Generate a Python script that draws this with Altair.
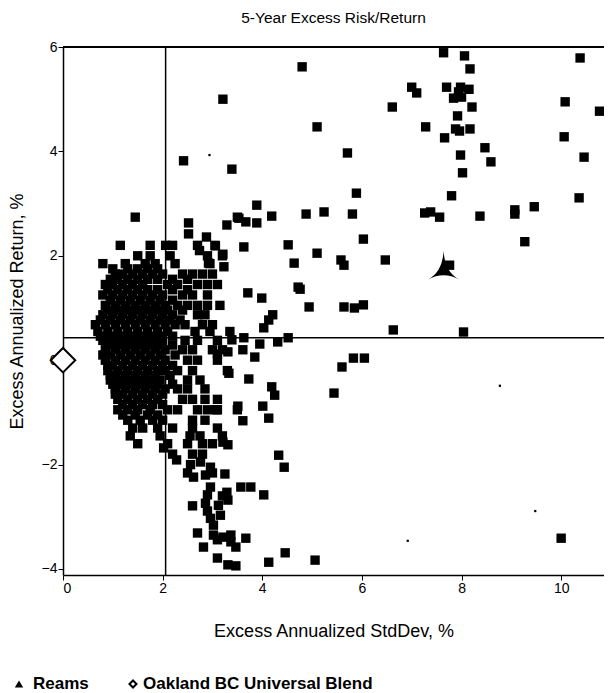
import altair as alt
import pandas as pd

# ---------------- data ----------------
outer_points = [
    (4.80, 5.62), (3.21, 5.00), (5.10, 4.47), (6.61, 4.85), (5.71, 3.97), (3.39, 3.66),
    (2.42, 3.82), (5.89, 3.20), (3.89, 2.97), (4.19, 2.76), (4.88, 2.80), (5.24, 2.84),
    (5.81, 2.80), (3.53, 2.72), (3.67, 2.65), (3.89, 2.63), (3.29, 2.59), (2.52, 2.63),
    (2.52, 2.42), (2.88, 2.36), (6.03, 2.32), (1.45, 2.74), (3.50, 2.74),
    (7.64, 5.89), (8.06, 5.83), (10.38, 5.79), (8.17, 5.58), (7.00, 5.23), (7.10, 5.12),
    (7.70, 5.23), (7.98, 5.23), (8.15, 5.19), (7.94, 5.14), (8.00, 5.04), (7.84, 5.02),
    (8.21, 4.85), (10.08, 4.95), (10.77, 4.77), (7.92, 4.68), (7.28, 4.47), (7.88, 4.43),
    (7.96, 4.39), (8.17, 4.43), (7.66, 4.26), (10.06, 4.28), (8.47, 4.07), (7.98, 3.93),
    (8.59, 3.80), (10.46, 3.89), (8.02, 3.59), (7.80, 3.15), (10.36, 3.11), (9.46, 2.94),
    (9.07, 2.88), (9.07, 2.80), (7.26, 2.82), (7.38, 2.84), (7.56, 2.74), (8.37, 2.76),
    (9.27, 2.27), (6.47, 1.92), (7.76, 1.82), (6.63, 0.58), (8.04, 0.54), (10.99, -1.32),
    (10.00, -3.41),
    (3.63, 2.17), (4.52, 2.21), (5.10, 2.05), (5.58, 1.92), (5.64, 1.82), (4.64, 1.86),
    (2.74, 2.10), (3.06, 2.19), (3.21, 2.03), (2.92, 1.86), (3.23, 1.79), (4.72, 1.40),
    (4.76, 1.36), (3.71, 1.29), (3.99, 1.19), (4.94, 1.02), (5.64, 1.02), (5.85, 1.00),
    (6.03, 1.06), (4.21, 0.87), (4.13, 0.77), (4.03, 0.62), (3.39, 0.39), (3.63, 0.43),
    (3.95, 0.31), (4.31, 0.35), (4.52, 0.43), (3.61, 0.20), (3.85, 0.06), (3.31, 0.16),
    (3.10, 0.12), (5.83, 0.04), (6.05, 0.04), (5.60, -0.13), (3.33, -0.25), (3.73, -0.36),
    (5.44, -0.63), (4.19, -0.51), (4.25, -0.67), (3.51, -0.88), (4.01, -0.88), (3.08, -0.95),
    (3.61, -1.16), (4.13, -1.11),
]

tail_points = [
    (2.02, -1.68), (2.28, -1.91), (2.56, -2.00), (2.76, -1.95), (2.96, -2.05), (3.00, -2.16),
    (2.50, -2.16), (2.62, -2.24), (2.86, -2.20), (3.25, -2.18), (3.31, -1.62), (3.21, -1.57),
    (4.33, -1.82), (4.44, -2.05), (3.57, -2.43), (3.77, -2.43), (4.03, -2.58), (3.29, -2.53),
    (3.31, -2.68), (2.60, -2.79), (2.96, -2.43), (2.90, -2.58), (2.86, -2.74), (2.90, -2.89),
    (2.96, -3.03), (3.02, -3.16), (3.12, -2.78), (3.16, -2.97), (3.20, -2.60), (2.70, -3.31),
    (3.02, -3.35), (3.21, -3.39), (3.37, -3.35), (3.10, -3.44), (3.37, -3.48), (3.67, -3.41),
    (3.47, -3.58), (2.82, -3.58), (3.10, -3.79), (3.31, -3.92), (3.47, -3.94), (4.13, -3.87),
    (4.46, -3.69), (5.06, -3.83),
]

cluster_rows = {
    2.20: [1.15, 1.75, 2.06, 2.20, 2.70, 3.05],
    2.00: [1.50, 1.75, 2.15, 2.90, 3.20],
    1.85: [0.80, 1.25, 1.65, 1.85, 2.25, 2.95],
    1.75: [1.00, 1.30, 1.50, 1.70, 1.90],
    1.65: [1.05, 1.20, 1.40, 1.60, 1.80, 2.00, 2.40, 2.60, 2.80, 3.00],
    1.55: [0.95, 1.10, 1.30, 1.50, 1.70, 1.90, 2.20, 2.50],
    1.45: [0.85, 1.00, 1.20, 1.40, 1.60, 2.10, 2.30, 2.70, 2.90, 3.10],
    1.35: [0.90, 1.10, 1.30, 1.50, 1.70, 1.90, 2.20, 2.50],
    1.25: [0.80, 1.00, 1.20, 1.40, 1.60, 1.80, 2.00, 2.40, 2.60, 2.90],
    1.15: [0.95, 1.15, 1.35, 1.55, 1.75, 1.95, 2.20],
    1.05: [0.85, 1.05, 1.25, 1.45, 1.65, 1.85, 2.05, 2.30, 2.50, 2.70, 2.90, 3.15],
    0.96: [0.90, 1.10, 1.30, 1.50, 1.70, 1.90, 2.10, 2.40],
    0.87: [0.80, 1.00, 1.20, 1.40, 1.60, 1.80, 2.00, 2.20, 2.70, 2.85],
    0.77: [0.75, 0.95, 1.15, 1.35, 1.55, 1.75, 1.95, 2.15, 2.35],
    0.68: [0.65, 0.85, 1.05, 1.25, 1.45, 1.65, 1.85, 2.05, 2.25, 2.45, 2.80, 3.00],
    0.55: [0.70, 0.90, 1.10, 1.30, 1.50, 1.70, 1.90, 2.10, 2.65, 2.95, 3.35],
    0.46: [0.75, 0.95, 1.15, 1.35, 1.55, 1.75, 1.95, 2.20],
    0.38: [0.80, 1.00, 1.20, 1.40, 1.60, 1.80, 2.00, 2.45, 2.70, 3.10],
    0.29: [0.90, 1.10, 1.30, 1.50, 1.70, 1.90, 2.20],
    0.20: [0.85, 1.05, 1.25, 1.45, 1.65, 1.85, 2.05, 2.40, 2.60, 3.00, 3.20],
    0.10: [0.80, 0.95, 1.15, 1.35, 1.55, 1.75, 1.95, 2.25],
    0.00: [0.85, 1.05, 1.25, 1.45, 1.65, 1.85, 2.05, 2.50, 2.70, 3.10],
    -0.10: [0.90, 1.00, 1.20, 1.40, 1.60, 1.80, 2.00, 2.20],
    -0.20: [0.90, 1.10, 1.30, 1.50, 1.70, 1.90, 2.05, 2.30, 2.60, 3.30],
    -0.29: [0.95, 1.05, 1.25, 1.45, 1.65, 1.85, 2.15],
    -0.38: [0.95, 1.15, 1.35, 1.55, 1.75, 1.95, 2.50, 2.75],
    -0.46: [1.00, 1.10, 1.30, 1.50, 1.70, 1.90, 2.20],
    -0.55: [1.05, 1.25, 1.45, 1.65, 1.85, 2.05, 2.30, 2.50, 2.85],
    -0.65: [1.05, 1.20, 1.40, 1.60, 1.80, 2.00],
    -0.75: [1.10, 1.30, 1.50, 1.70, 1.90, 2.40, 2.60, 2.85, 3.10],
    -0.85: [1.20, 1.40, 1.60, 1.80, 2.00],
    -0.95: [1.10, 1.30, 1.50, 1.75, 2.10, 2.30, 2.70, 2.90, 3.10, 3.50],
    -1.05: [1.20, 1.45, 1.70, 1.90],
    -1.15: [1.30, 1.55, 1.80, 2.00, 2.60, 2.85],
    -1.30: [1.40, 1.60, 1.90, 2.20, 2.60, 3.10],
    -1.45: [1.35, 1.95, 2.55, 2.75, 3.20],
    -1.60: [1.50, 2.10, 2.50, 2.80, 3.00],
    -1.80: [2.20, 2.60, 2.80],
}

speck_points = [(2.94, 3.93), (8.77, -0.49), (9.48, -2.89), (6.92, -3.46)]

reams_x, reams_y = [7.64], [1.80]
blend_x, blend_y = [0.0], [0.0]
benchmark_x = [2.06]
benchmark_y = [0.43]

x_ticks = [0, 2, 4, 6, 8, 10]
y_ticks = [-4, -2, 0, 2, 4, 6]
x_domain = [0, 10.86]
y_domain = [-4.115, 6]

# ---------------- tables ----------------
cluster_points = [(x, y) for y, xs in cluster_rows.items() for x in xs]
funds = pd.DataFrame(outer_points + tail_points + cluster_points, columns=["x", "y"])
specks = pd.DataFrame(speck_points, columns=["x", "y"])
reams = pd.DataFrame({"x": reams_x, "y": reams_y})
blend = pd.DataFrame({"x": blend_x, "y": blend_y})
vline = pd.DataFrame({"x": benchmark_x})
hline = pd.DataFrame({"y": benchmark_y})
top = pd.DataFrame({"y": [y_domain[1]]})
one = pd.DataFrame({"k": [0]})

FONT = "Liberation Sans"
W, H = 541, 528

xs = alt.Scale(domain=x_domain, nice=False, zero=False)
ys = alt.Scale(domain=y_domain, nice=False, zero=False)
xaxis = alt.Axis(values=x_ticks, format="d", title="Excess Annualized StdDev, %",
                 titlePadding=27)
yaxis = alt.Axis(values=y_ticks, format="d", title="Excess Annualized Return, %",
                 titlePadding=15)

sq = alt.Chart(funds).mark_point(shape="square", filled=True, color="black",
                                 size=88, opacity=1, clip=True).encode(
    x=alt.X("x:Q", scale=xs, axis=xaxis),
    y=alt.Y("y:Q", scale=ys, axis=yaxis),
)

sp = alt.Chart(specks).mark_point(shape="square", filled=True, color="black",
                                  size=5, opacity=1).encode(
    x=alt.X("x:Q", scale=xs), y=alt.Y("y:Q", scale=ys))

vr = alt.Chart(vline).mark_rule(color="black", strokeWidth=1.5).encode(
    x=alt.X("x:Q", scale=xs))
hr = alt.Chart(hline).mark_rule(color="black", strokeWidth=1.5).encode(
    y=alt.Y("y:Q", scale=ys))
tr = alt.Chart(top).mark_rule(color="black", strokeWidth=2).encode(
    y=alt.Y("y:Q", scale=ys))

star_path = ("M0,-1 Q0.06,0.35 1,0.85 Q0,0.3 -1,0.85 Q-0.06,0.35 0,-1 Z")
rm = alt.Chart(reams).mark_point(shape=star_path, filled=True, color="black",
                                 size=1000, opacity=1).encode(
    x=alt.X("x:Q", scale=xs), y=alt.Y("y:Q", scale=ys))

bm = alt.Chart(blend).mark_point(shape="diamond", filled=True, fill="white",
                                 stroke="black", strokeWidth=2, size=600,
                                 opacity=1, clip=False).encode(
    x=alt.X("x:Q", scale=xs), y=alt.Y("y:Q", scale=ys))

# legend (drawn below the plot)
LY = 637
leg_tri = alt.Chart(one).mark_point(shape="triangle-up", filled=True, color="black",
                                    size=70, opacity=1).encode(
    x=alt.value(-44), y=alt.value(LY))
leg_t1 = alt.Chart(one).mark_text(text="Reams", align="left", baseline="middle",
                                  font=FONT, fontSize=17, fontWeight="bold",
                                  color="black").encode(
    x=alt.value(-30), y=alt.value(LY))
leg_dia = alt.Chart(one).mark_point(shape="diamond", filled=True, fill="white",
                                    stroke="black", strokeWidth=2, size=50,
                                    opacity=1).encode(
    x=alt.value(70), y=alt.value(LY))
leg_t2 = alt.Chart(one).mark_text(text="Oakland BC Universal Blend", align="left",
                                  baseline="middle", font=FONT, fontSize=17,
                                  fontWeight="bold", color="black").encode(
    x=alt.value(80), y=alt.value(LY))

chart = alt.layer(vr, hr, tr, sq, sp, rm, bm, leg_tri, leg_t1, leg_dia, leg_t2).properties(
    width=W, height=H,
    background="white",
    title=alt.TitleParams("5-Year Excess Risk/Return", font=FONT, fontSize=15.5,
                          fontWeight="normal", color="black", anchor="middle",
                          offset=14),
    autosize=alt.AutoSizeParams(type="none"),
    padding={"left": 55, "top": 39, "right": 0, "bottom": 119},
).configure_view(stroke=None).configure_axis(
    grid=False, domainColor="black", domainWidth=1.5, tickColor="black",
    tickSize=5, tickWidth=1, labelFont=FONT, labelFontSize=14, labelColor="black",
    labelPadding=1, titleFont=FONT, titleFontSize=18, titleFontWeight="normal",
    titleColor="black",
)

chart.save("out.html", embed_options={"renderer": "svg", "actions": False})
